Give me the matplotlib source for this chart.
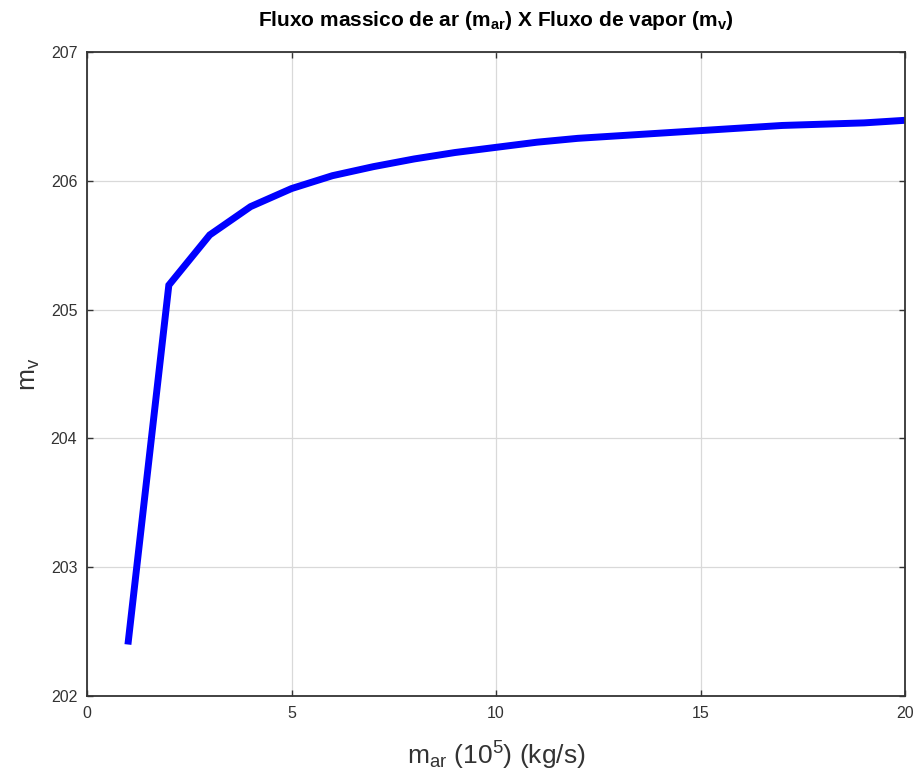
import matplotlib
matplotlib.use('Agg')
import matplotlib.pyplot as plt

plt.rcParams['font.family'] = ['Liberation Sans', 'DejaVu Sans']
plt.rcParams['mathtext.fontset'] = 'custom'
plt.rcParams['mathtext.rm'] = 'Liberation Sans'
plt.rcParams['mathtext.it'] = 'Liberation Sans'
plt.rcParams['mathtext.bf'] = 'Liberation Sans:bold'

# air mass flow (x 10^5 kg/s) vs steam flow
m_ar = [1, 2, 3, 4, 5, 6, 7, 8, 9, 10, 11, 12, 13, 14, 15, 16, 17, 18, 19, 20]
m_v = [202.40, 205.19, 205.58, 205.80, 205.94, 206.04, 206.11, 206.17, 206.22, 206.26,
       206.30, 206.33, 206.35, 206.37, 206.39, 206.41, 206.43, 206.44, 206.45, 206.47]

x_ticks = [0, 5, 10, 15, 20]
y_ticks = [202, 203, 204, 205, 206, 207]

fig = plt.figure(figsize=(9.2, 7.79), dpi=100)
ax = fig.add_axes([0.0946, 0.1065, 0.8891, 0.8267])

ax.plot(m_ar, m_v, color=(0, 0, 1), linewidth=5, solid_capstyle='butt', solid_joinstyle='miter')

ax.set_xlim(0, 20)
ax.set_ylim(202, 207)
ax.set_xticks(x_ticks)
ax.set_yticks(y_ticks)
ax.grid(True, color='#d9d9d9', linewidth=0.9)
ax.set_axisbelow(True)
ax.tick_params(direction='in', top=True, right=True, length=4, width=1,
               labelsize=11.5, colors='#333333', pad=7)
for s in ax.spines.values():
    s.set_color('#333333')
    s.set_linewidth(1.3)

ax.set_title(r'Fluxo massico de ar ($\mathbf{m_{ar}}$) X Fluxo de vapor ($\mathbf{m_v}$)',
             fontsize=15, fontweight='bold', pad=19, color='black')
ax.set_xlabel(r'$\mathregular{m_{ar}}$ ($\mathregular{10^5}$) (kg/s)', fontsize=19, color='#333333', labelpad=14)
ax.set_ylabel(r'$\mathregular{m_v}$', fontsize=19, color='#333333', labelpad=6)

fig.savefig('out.png', dpi=100)
